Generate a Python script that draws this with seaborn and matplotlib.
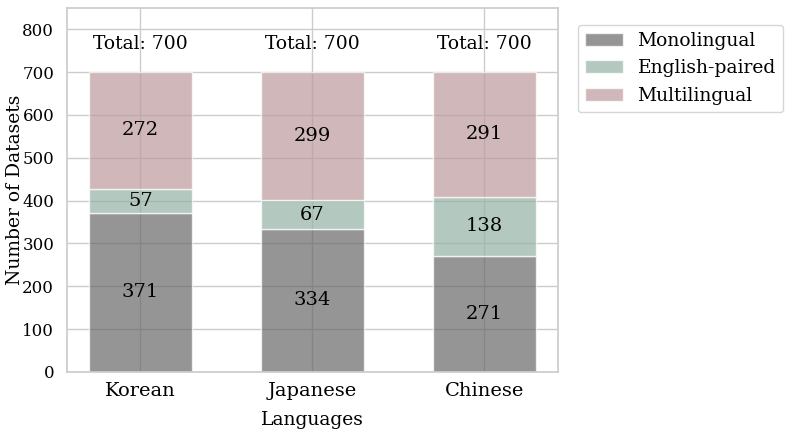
import pandas as pd
import seaborn as sns
import matplotlib.pyplot as plt

# Data
languages = ['Korean', 'Japanese', 'Chinese']
monolingual = [371, 334, 271]
english_paired = [57, 67, 138]
multilingual = [272, 299, 291]

df = pd.DataFrame({
    'Language': languages,
    'Monolingual': monolingual,
    'English-paired': english_paired,
    'Multilingual': multilingual,
})
df['Total'] = df['Monolingual'] + df['English-paired'] + df['Multilingual']

sns.set_theme(style='whitegrid')
plt.rcParams['font.family'] = ['DejaVu Serif']
plt.rcParams.update({'text.color': 'black', 'axes.labelcolor': 'black',
                     'xtick.color': 'black', 'ytick.color': 'black'})

fig, ax = plt.subplots(figsize=(7.92, 4.36), dpi=100)
fig.subplots_adjust(left=0.085, right=0.705, bottom=0.147, top=0.982)

layers = [('Monolingual', '#686868'), ('English-paired', '#8eb8a6'), ('Multilingual', '#c39598')]
bottom = pd.Series([0] * len(df))
for name, color in layers:
    sns.barplot(x='Language', y=name, data=df, color=color, alpha=0.7,
                bottom=bottom, width=0.6, edgecolor='white', linewidth=1,
                label=name, ax=ax)
    # value labels in the middle of each segment
    for i, v in enumerate(df[name]):
        ax.text(i, bottom[i] + v / 2, str(v), ha='center', va='center', fontsize=14)
    bottom = bottom + df[name]

for i, t in enumerate(df['Total']):
    ax.text(i, t + 65, f'Total: {t}', ha='center', va='center', fontsize=13.5)

ax.set_xlim(-0.425, 2.43)
ax.set_ylim(0, 850)
ax.set_yticks(range(0, 801, 100))
ax.grid(True, axis='both')
ax.set_axisbelow(True)
ax.tick_params(axis='y', labelsize=12)
ax.tick_params(axis='x', labelsize=14, pad=1)
ax.set_xlabel('Languages', fontsize=13.5, labelpad=8)
ax.set_ylabel('Number of Datasets', fontsize=13.5)
ax.yaxis.set_label_coords(-0.088, 0.5)
ax.legend(loc='upper left', bbox_to_anchor=(1.02, 0.98), fontsize=13.5, frameon=True)

plt.savefig('out.png')
